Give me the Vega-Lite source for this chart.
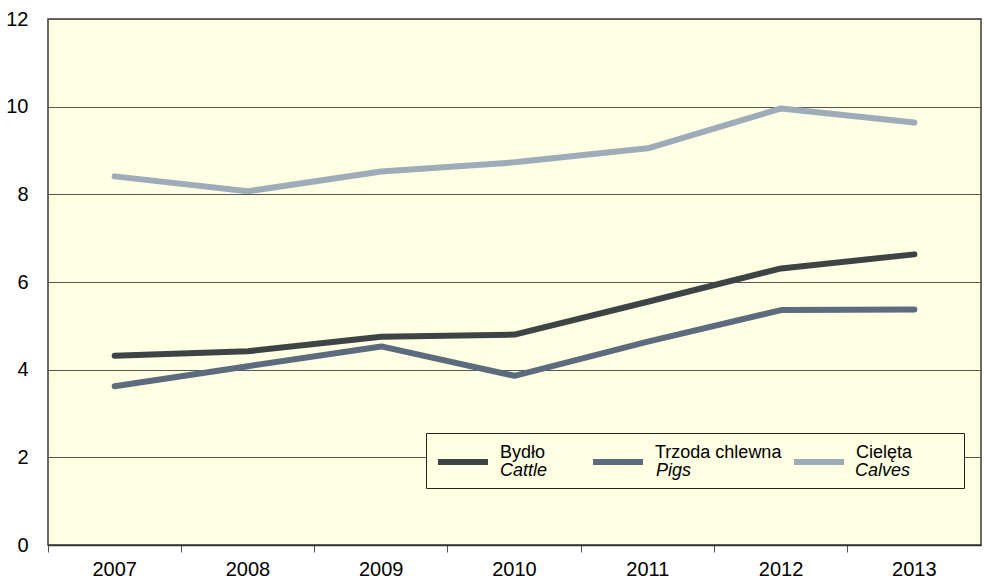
{
  "$schema": "https://vega.github.io/schema/vega-lite/v6.json",
  "autosize": {"type": "none"},
  "padding": {"left": 48, "top": 19, "right": 3, "bottom": 35},
  "width": 933,
  "height": 526,
  "background": "#ffffff",
  "config": {
    "view": {"fill": "#ffffe3", "stroke": "#3a3a3a", "strokeWidth": 1.5},
    "font": "Liberation Sans"
  },
  "data": {
    "values": [
      {"year": "2007", "pl": "Bydło", "en": "Cattle", "value": 4.32},
      {"year": "2008", "pl": "Bydło", "en": "Cattle", "value": 4.42},
      {"year": "2009", "pl": "Bydło", "en": "Cattle", "value": 4.75},
      {"year": "2010", "pl": "Bydło", "en": "Cattle", "value": 4.8},
      {"year": "2011", "pl": "Bydło", "en": "Cattle", "value": 5.55},
      {"year": "2012", "pl": "Bydło", "en": "Cattle", "value": 6.31},
      {"year": "2013", "pl": "Bydło", "en": "Cattle", "value": 6.63},
      {"year": "2007", "pl": "Trzoda chlewna", "en": "Pigs", "value": 3.62},
      {"year": "2008", "pl": "Trzoda chlewna", "en": "Pigs", "value": 4.08},
      {"year": "2009", "pl": "Trzoda chlewna", "en": "Pigs", "value": 4.53},
      {"year": "2010", "pl": "Trzoda chlewna", "en": "Pigs", "value": 3.86},
      {"year": "2011", "pl": "Trzoda chlewna", "en": "Pigs", "value": 4.64},
      {"year": "2012", "pl": "Trzoda chlewna", "en": "Pigs", "value": 5.36},
      {"year": "2013", "pl": "Trzoda chlewna", "en": "Pigs", "value": 5.37},
      {"year": "2007", "pl": "Cielęta", "en": "Calves", "value": 8.41},
      {"year": "2008", "pl": "Cielęta", "en": "Calves", "value": 8.07},
      {"year": "2009", "pl": "Cielęta", "en": "Calves", "value": 8.52},
      {"year": "2010", "pl": "Cielęta", "en": "Calves", "value": 8.73},
      {"year": "2011", "pl": "Cielęta", "en": "Calves", "value": 9.05},
      {"year": "2012", "pl": "Cielęta", "en": "Calves", "value": 9.96},
      {"year": "2013", "pl": "Cielęta", "en": "Calves", "value": 9.64}
    ]
  },
  "mark": {"type": "line", "strokeCap": "round", "strokeJoin": "round"},
  "encoding": {
    "x": {
      "field": "year",
      "type": "ordinal",
      "bandPosition": 0.5,
      "scale": {"type": "band", "paddingInner": 0, "paddingOuter": 0},
      "axis": {
        "title": null,
        "labelAngle": 0,
        "bandPosition": 0,
        "labelFontSize": 20,
        "labelColor": "#000000",
        "labelPadding": 7,
        "tickSize": 7,
        "tickColor": "#555555",
        "domainColor": "#333333",
        "domainWidth": 1.5,
        "grid": false
      }
    },
    "y": {
      "field": "value",
      "type": "quantitative",
      "scale": {"domain": [0, 12], "nice": false},
      "axis": {
        "title": null,
        "values": [0, 2, 4, 6, 8, 10, 12],
        "ticks": false,
        "domain": false,
        "labelFontSize": 20,
        "labelColor": "#000000",
        "labelPadding": 20,
        "gridColor": "#555555",
        "gridOpacity": 1,
        "gridWidth": 1
      }
    },
    "color": {
      "field": "pl",
      "type": "nominal",
      "scale": {"domain": ["Bydło", "Trzoda chlewna", "Cielęta"], "range": ["#3c4446", "#5c6b7d", "#9eabb9"]},
      "legend": {
        "title": "\u200b",
        "titleOrient": "bottom",
        "titleFontSize": 1,
        "titlePadding": 12,
        "orient": "none",
        "legendX": 378,
        "legendY": 414,
        "zindex": 1,
        "direction": "horizontal",
        "columns": 3,
        "gridAlign": "each",
        "columnPadding": 0,
        "padding": 1,
        "strokeColor": "#222222",
        "fillColor": "#ffffe3",
        "symbolType": "stroke",
        "symbolSize": 2500,
        "symbolStrokeWidth": 6,
        "symbolOffset": 8,
        "labelOffset": 9,
        "labelFontSize": 18,
        "labelColor": "#000000",
        "labelBaseline": "bottom",
        "labelLimit": 400,
        "labelExpr": "datum.label == 'Bydło' ? 'Bydło\u00a0\u00a0\u00a0\u00a0\u00a0\u00a0\u00a0\u200b' : datum.label == 'Cielęta' ? 'Cielęta\u00a0\u00a0\u00a0\u00a0\u00a0\u00a0\u00a0\u00a0\u00a0\u00a0\u200b' : datum.label"
      }
    },
    "strokeWidth": {
      "field": "en",
      "type": "nominal",
      "scale": {"domain": ["Cattle", "Pigs", "Calves"], "range": [6, 6, 6]},
      "legend": {
        "title": null,
        "orient": "none",
        "legendX": 378,
        "legendY": 414,
        "zindex": 2,
        "direction": "horizontal",
        "columns": 3,
        "gridAlign": "each",
        "columnPadding": 0,
        "padding": 1,
        "symbolType": "stroke",
        "symbolSize": 2500,
        "symbolOpacity": 0,
        "symbolStrokeColor": "transparent",
        "symbolOffset": 8,
        "labelOffset": 9,
        "labelFontSize": 18,
        "labelFontStyle": "italic",
        "labelColor": "#000000",
        "labelBaseline": "top",
        "labelLimit": 400,
        "labelExpr": "datum.label == 'Cattle' ? 'Cattle\u00a0\u00a0\u00a0\u00a0\u00a0\u00a0\u00a0\u200b' : datum.label == 'Pigs' ? 'Pigs\u00a0\u00a0\u00a0\u00a0\u00a0\u00a0\u00a0\u00a0\u00a0\u00a0\u00a0\u00a0\u00a0\u00a0\u00a0\u00a0\u00a0\u00a0\u200b' : 'Calves'"
      }
    }
  }
}
